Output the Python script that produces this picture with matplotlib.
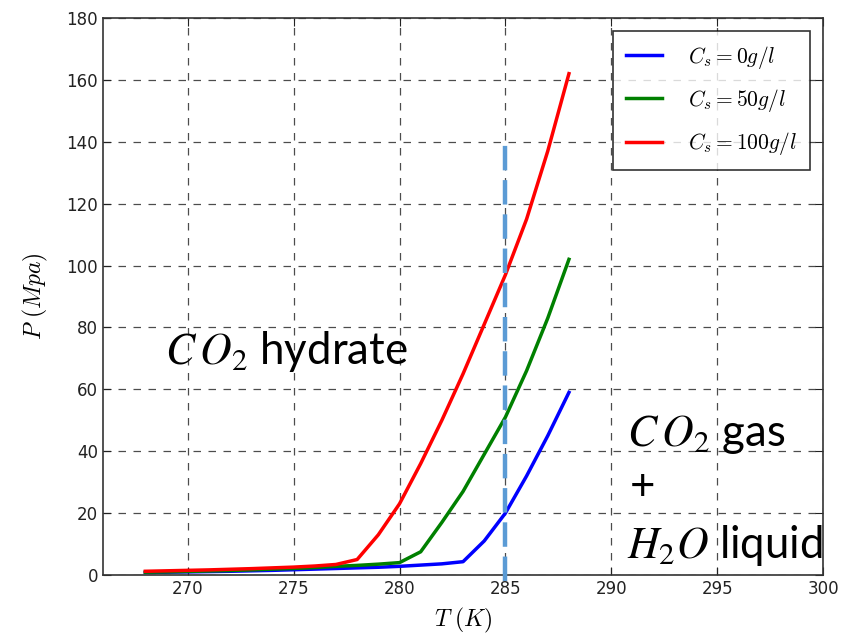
import matplotlib
matplotlib.use("Agg")
import matplotlib.pyplot as plt

plt.rcParams['mathtext.fontset'] = 'cm'
plt.rcParams['font.family'] = ['DejaVu Sans']

# temperature (K)
T = [268, 269, 270, 271, 272, 273, 274, 275, 276, 277, 278,
     279, 280, 281, 282, 283, 284, 285, 286, 287, 288]

# pressure (MPa) for each salt concentration
P_0 = [0.8, 0.9, 1.0, 1.1, 1.2, 1.35, 1.5, 1.7, 1.9, 2.1, 2.3,
       2.5, 2.8, 3.2, 3.6, 4.3, 11, 20, 32, 45, 59]
P_50 = [0.9, 1.0, 1.15, 1.3, 1.45, 1.65, 1.9, 2.1, 2.4, 2.8, 3.1,
        3.5, 4.0, 7.5, 17, 27, 39, 51, 66, 83, 102]
P_100 = [1.2, 1.35, 1.5, 1.65, 1.85, 2.05, 2.3, 2.55, 2.9, 3.4, 5.0,
         13, 23, 36, 50, 65, 81, 97, 115, 137, 162]

series = [(P_0, 'blue', r'$C_s=0g/l$'),
          (P_50, 'green', r'$C_s=50g/l$'),
          (P_100, 'red', r'$C_s=100g/l$')]

# vertical marker at T = 285 K
T_mark = 285
P_mark = [-2, 141]

fig = plt.figure(figsize=(8.61, 6.35), dpi=100)
ax = fig.add_axes([0.1196, 0.0945, 0.8364, 0.8772])

for P, c, lab in series:
    ax.plot(T, P, color=c, lw=2.5, label=lab)

ax.plot([T_mark, T_mark], P_mark, color='#5b9bd5', lw=3.2,
        linestyle=(0, (5.5, 2.2)), clip_on=False, zorder=5)

ax.set_xlim(266, 300)
ax.set_ylim(0, 180)
ax.set_xticks(range(270, 301, 5))
ax.set_yticks(range(0, 181, 20))
ax.grid(True, color='black', linestyle=(0, (6, 6)), lw=0.9, alpha=0.7)
ax.tick_params(direction='in', top=True, right=True, length=6,
               labelsize=12, colors='#222222')
for s in ax.spines.values():
    s.set_linewidth(1.2)
    s.set_color('#333333')

ax.set_xlabel(r'$T\ (K)$', fontsize=17, labelpad=6)
ax.set_ylabel(r'$P\ (Mpa)$', fontsize=17, labelpad=12)

leg = ax.legend(loc='upper right', fontsize=15.5, frameon=True, fancybox=False,
                handlelength=1.7, borderpad=0.6, labelspacing=0.75,
                handletextpad=1.2, borderaxespad=0.6)
leg.get_frame().set_edgecolor('black')
leg.get_frame().set_linewidth(1.2)

txt_kw = dict(fontsize=31.5, family=['Lato', 'DejaVu Sans'],
              math_fontfamily='stix', va='center', ha='left', zorder=10)
fig.text(165 / 861, 1 - 352 / 635, r'$C\,O_{2}$ hydrate', **txt_kw)
fig.text(627 / 861, 1 - 435 / 635, r'$C\,O_{2}$ gas', **txt_kw)
fig.text(630 / 861, 1 - 488 / 635, '+', **txt_kw)
fig.text(627 / 861, 1 - 545 / 635, r'$H_{2}O$ liquid', **txt_kw)

fig.savefig('out.png', dpi=100, facecolor='white')
